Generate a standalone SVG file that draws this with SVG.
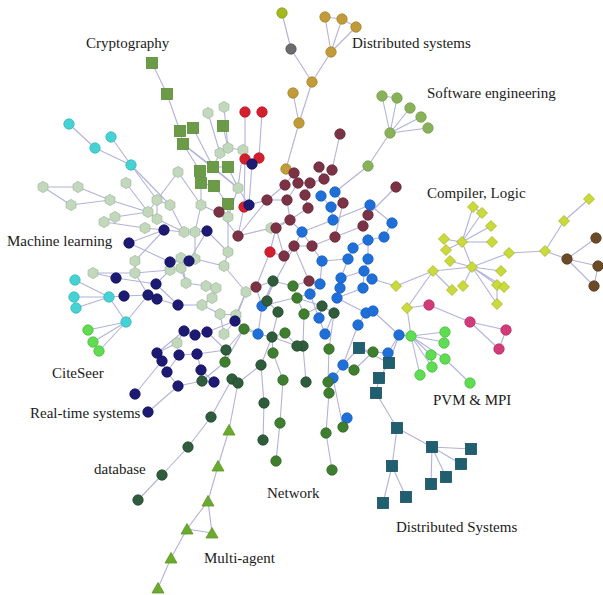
<svg xmlns="http://www.w3.org/2000/svg" xmlns:xlink="http://www.w3.org/1999/xlink" width="603" height="595" viewBox="0 0 603 595">
<style>
.lbl{font-family:"Liberation Serif","Times New Roman",serif;font-size:15px;fill:#1a1a1a}
#edges line{stroke:#b2b2dc;stroke-width:1.1}
.cy{fill:#45d2d4;stroke:#38b8ba}
.lg{fill:#5fdc52;stroke:#4cc040}
.hx{fill:#c2d8bc;stroke:#a4bc9e}
.sq{fill:#6b9b47;stroke:#5a8a3a}
.rd{fill:#d4202e;stroke:#b81824}
.nv{fill:#1c1a72;stroke:#141260}
.au{fill:#c19a3a;stroke:#a8862e}
.gy{fill:#6c6c6c;stroke:#5a5a5a}
.ol{fill:#a5b81e;stroke:#8ea015}
.mr{fill:#7b3244;stroke:#682838}
.sw{fill:#89b15a;stroke:#76a04a}
.bl{fill:#1f6fd9;stroke:#1a5fc0}
.yd{fill:#c9da3a;stroke:#a3b422}
.br{fill:#6b4a27;stroke:#5a3c1e}
.pk{fill:#d23a78;stroke:#b82e66}
.dg{fill:#2f5c3a;stroke:#244a2e}
.mg{fill:#3e7e2e;stroke:#326b24}
.tl{fill:#1f5f70;stroke:#184e5e}
.tr{fill:#6aab2e;stroke:#5a9424}
</style>
<defs>
<circle id="ci" r="5.2" stroke-width="0.8"/>
<rect id="sqr" x="-5.5" y="-5.5" width="11" height="11" stroke-width="0.8"/>
<polygon id="hex" points="0,-5.6 4.9,-2.8 4.9,2.8 0,5.6 -4.9,2.8 -4.9,-2.8" stroke-width="0.8"/>
<polygon id="dia" points="0,-5.5 5.5,0 0,5.5 -5.5,0" stroke-width="0.8"/>
<polygon id="tri" points="0,-5.5 6,5 -6,5" stroke-width="0.8"/>
</defs>
<rect width="603" height="595" fill="#ffffff"/>
<g id="edges">
<line x1="282" y1="13" x2="291" y2="49"/><line x1="291" y1="49" x2="312" y2="82"/><line x1="312" y1="82" x2="331" y2="52"/><line x1="331" y1="52" x2="325" y2="17"/><line x1="331" y1="52" x2="342" y2="19"/><line x1="331" y1="52" x2="356" y2="27"/><line x1="325" y1="17" x2="342" y2="19"/><line x1="342" y1="19" x2="356" y2="27"/><line x1="312" y1="82" x2="299" y2="123"/><line x1="293" y1="93" x2="299" y2="123"/><line x1="299" y1="123" x2="286" y2="169"/><line x1="286" y1="169" x2="294" y2="173"/>
<line x1="390" y1="133" x2="382" y2="96"/><line x1="390" y1="133" x2="397" y2="98"/><line x1="390" y1="133" x2="410" y2="108"/><line x1="390" y1="133" x2="421" y2="117"/><line x1="390" y1="133" x2="428" y2="128"/><line x1="382" y1="96" x2="397" y2="98"/><line x1="390" y1="133" x2="368" y2="166"/><line x1="368" y1="166" x2="335" y2="192"/><line x1="340" y1="134" x2="332" y2="170"/>
<line x1="152" y1="63" x2="167" y2="94"/><line x1="167" y1="94" x2="180" y2="131"/><line x1="180" y1="131" x2="183" y2="144"/><line x1="193" y1="128" x2="213" y2="167"/><line x1="183" y1="144" x2="213" y2="167"/><line x1="183" y1="144" x2="200" y2="171"/><line x1="200" y1="171" x2="201" y2="183"/><line x1="201" y1="183" x2="214" y2="186"/><line x1="213" y1="167" x2="228" y2="167"/><line x1="223" y1="126" x2="228" y2="148"/><line x1="214" y1="186" x2="228" y2="204"/><line x1="228" y1="167" x2="238" y2="188"/><line x1="183" y1="144" x2="238" y2="188"/>
<line x1="208" y1="113" x2="220" y2="153"/><line x1="224" y1="107" x2="228" y2="148"/><line x1="220" y1="153" x2="228" y2="148"/><line x1="228" y1="148" x2="243" y2="150"/><line x1="243" y1="150" x2="238" y2="188"/><line x1="220" y1="153" x2="213" y2="167"/><line x1="245" y1="112" x2="245" y2="159"/><line x1="262" y1="112" x2="259" y2="158"/><line x1="245" y1="159" x2="252" y2="164"/><line x1="259" y1="158" x2="252" y2="164"/><line x1="252" y1="164" x2="249" y2="205"/><line x1="245" y1="159" x2="244" y2="207"/><line x1="178" y1="172" x2="201" y2="205"/><line x1="178" y1="172" x2="157" y2="200"/><line x1="238" y1="188" x2="228" y2="217"/><line x1="238" y1="188" x2="249" y2="205"/><line x1="201" y1="183" x2="201" y2="205"/><line x1="213" y1="167" x2="238" y2="188"/><line x1="228" y1="204" x2="228" y2="217"/>
<line x1="69" y1="124" x2="95" y2="148"/><line x1="95" y1="148" x2="131" y2="165"/><line x1="111" y1="137" x2="131" y2="165"/><line x1="131" y1="165" x2="157" y2="200"/><line x1="131" y1="165" x2="170" y2="205"/><line x1="75" y1="280" x2="109" y2="297"/><line x1="74" y1="297" x2="109" y2="297"/><line x1="76" y1="308" x2="109" y2="297"/><line x1="109" y1="297" x2="124" y2="296"/><line x1="109" y1="297" x2="126" y2="322"/><line x1="126" y1="322" x2="148" y2="295"/><line x1="88" y1="330" x2="126" y2="322"/><line x1="93" y1="342" x2="126" y2="322"/><line x1="99" y1="351" x2="126" y2="322"/>
<line x1="43" y1="187" x2="78" y2="187"/><line x1="43" y1="187" x2="71" y2="205"/><line x1="78" y1="187" x2="110" y2="200"/><line x1="71" y1="205" x2="110" y2="200"/><line x1="110" y1="200" x2="148" y2="212"/><line x1="126" y1="183" x2="148" y2="212"/><line x1="104" y1="222" x2="115" y2="217"/><line x1="115" y1="217" x2="148" y2="212"/><line x1="104" y1="222" x2="145" y2="228"/><line x1="145" y1="228" x2="164" y2="230"/><line x1="148" y1="212" x2="157" y2="200"/><line x1="93" y1="273" x2="135" y2="273"/><line x1="93" y1="273" x2="116" y2="278"/>
<line x1="157" y1="200" x2="170" y2="205"/><line x1="170" y1="205" x2="184" y2="232"/><line x1="157" y1="200" x2="157" y2="219"/><line x1="157" y1="219" x2="184" y2="232"/><line x1="148" y1="212" x2="157" y2="219"/><line x1="184" y1="232" x2="195" y2="232"/><line x1="195" y1="232" x2="201" y2="205"/><line x1="195" y1="232" x2="207" y2="231"/><line x1="201" y1="205" x2="228" y2="217"/><line x1="228" y1="217" x2="228" y2="252"/><line x1="228" y1="252" x2="224" y2="266"/><line x1="224" y1="266" x2="246" y2="292"/><line x1="181" y1="258" x2="195" y2="259"/><line x1="170" y1="270" x2="181" y2="268"/><line x1="181" y1="268" x2="186" y2="283"/><line x1="186" y1="283" x2="206" y2="286"/><line x1="206" y1="286" x2="216" y2="288"/><line x1="216" y1="288" x2="212" y2="298"/><line x1="212" y1="298" x2="202" y2="305"/><line x1="202" y1="305" x2="220" y2="314"/><line x1="220" y1="314" x2="236" y2="315"/><line x1="236" y1="315" x2="246" y2="292"/><line x1="224" y1="334" x2="220" y2="314"/><line x1="224" y1="334" x2="235" y2="321"/><line x1="177" y1="343" x2="184" y2="331"/><line x1="177" y1="343" x2="157" y2="353"/><line x1="135" y1="261" x2="135" y2="273"/><line x1="135" y1="261" x2="164" y2="230"/><line x1="135" y1="273" x2="170" y2="270"/><line x1="271" y1="228" x2="238" y2="236"/><line x1="271" y1="228" x2="290" y2="220"/><line x1="195" y1="259" x2="224" y2="266"/><line x1="186" y1="283" x2="181" y2="258"/><line x1="195" y1="232" x2="195" y2="259"/><line x1="228" y1="217" x2="219" y2="212"/><line x1="181" y1="258" x2="170" y2="262"/>
<line x1="129" y1="243" x2="164" y2="230"/><line x1="129" y1="243" x2="170" y2="262"/><line x1="164" y1="230" x2="184" y2="232"/><line x1="170" y1="262" x2="189" y2="261"/><line x1="189" y1="261" x2="207" y2="231"/><line x1="116" y1="278" x2="156" y2="284"/><line x1="124" y1="296" x2="148" y2="295"/><line x1="148" y1="295" x2="157" y2="299"/><line x1="156" y1="284" x2="178" y2="305"/><line x1="157" y1="299" x2="178" y2="305"/><line x1="178" y1="305" x2="202" y2="305"/><line x1="156" y1="284" x2="170" y2="270"/><line x1="148" y1="295" x2="135" y2="273"/><line x1="184" y1="331" x2="195" y2="335"/><line x1="195" y1="335" x2="207" y2="332"/><line x1="207" y1="332" x2="235" y2="321"/><line x1="184" y1="331" x2="157" y2="353"/><line x1="157" y1="353" x2="162" y2="361"/><line x1="162" y1="361" x2="167" y2="372"/><line x1="179" y1="355" x2="197" y2="354"/><line x1="179" y1="355" x2="167" y2="372"/><line x1="197" y1="354" x2="201" y2="370"/><line x1="201" y1="370" x2="214" y2="382"/><line x1="167" y1="372" x2="178" y2="386"/><line x1="178" y1="386" x2="202" y2="381"/><line x1="235" y1="321" x2="258" y2="334"/><line x1="235" y1="321" x2="246" y2="292"/><line x1="249" y1="205" x2="244" y2="207"/><line x1="207" y1="332" x2="226" y2="350"/><line x1="197" y1="354" x2="226" y2="350"/><line x1="135" y1="394" x2="162" y2="361"/><line x1="148" y1="412" x2="178" y2="386"/><line x1="207" y1="231" x2="228" y2="252"/>
<line x1="319" y1="167" x2="324" y2="179"/><line x1="332" y1="170" x2="324" y2="179"/><line x1="324" y1="179" x2="310" y2="183"/><line x1="310" y1="183" x2="305" y2="195"/><line x1="294" y1="173" x2="285" y2="185"/><line x1="294" y1="173" x2="298" y2="183"/><line x1="298" y1="183" x2="310" y2="183"/><line x1="305" y1="195" x2="308" y2="208"/><line x1="308" y1="208" x2="290" y2="220"/><line x1="290" y1="220" x2="276" y2="228"/><line x1="276" y1="228" x2="284" y2="256"/><line x1="284" y1="256" x2="294" y2="246"/><line x1="294" y1="246" x2="312" y2="246"/><line x1="312" y1="246" x2="335" y2="237"/><line x1="335" y1="237" x2="363" y2="226"/><line x1="363" y1="226" x2="368" y2="215"/><line x1="343" y1="203" x2="335" y2="237"/><line x1="343" y1="203" x2="331" y2="207"/><line x1="267" y1="200" x2="287" y2="200"/><line x1="287" y1="200" x2="290" y2="220"/><line x1="267" y1="200" x2="249" y2="205"/><line x1="219" y1="212" x2="238" y2="236"/><line x1="238" y1="236" x2="267" y2="200"/><line x1="309" y1="281" x2="320" y2="284"/><line x1="309" y1="281" x2="294" y2="246"/><line x1="256" y1="287" x2="273" y2="281"/><line x1="256" y1="287" x2="262" y2="306"/><line x1="396" y1="187" x2="368" y2="215"/><line x1="285" y1="185" x2="267" y2="200"/><line x1="298" y1="183" x2="287" y2="200"/><line x1="270" y1="252" x2="284" y2="256"/><line x1="270" y1="252" x2="276" y2="228"/><line x1="270" y1="252" x2="256" y2="287"/><line x1="244" y1="207" x2="238" y2="236"/>
<line x1="321" y1="196" x2="331" y2="207"/><line x1="335" y1="192" x2="343" y2="203"/><line x1="370" y1="205" x2="333" y2="220"/><line x1="333" y1="220" x2="331" y2="207"/><line x1="392" y1="223" x2="384" y2="237"/><line x1="384" y1="237" x2="368" y2="240"/><line x1="368" y1="240" x2="353" y2="248"/><line x1="353" y1="248" x2="348" y2="259"/><line x1="348" y1="259" x2="322" y2="261"/><line x1="322" y1="261" x2="302" y2="232"/><line x1="302" y1="232" x2="333" y2="220"/><line x1="368" y1="259" x2="364" y2="271"/><line x1="364" y1="271" x2="372" y2="279"/><line x1="372" y1="279" x2="396" y2="286"/><line x1="341" y1="278" x2="340" y2="288"/><line x1="341" y1="278" x2="348" y2="259"/><line x1="320" y1="284" x2="310" y2="294"/><line x1="340" y1="288" x2="337" y2="298"/><line x1="363" y1="288" x2="364" y2="271"/><line x1="363" y1="288" x2="337" y2="298"/><line x1="310" y1="294" x2="319" y2="318"/><line x1="337" y1="298" x2="366" y2="313"/><line x1="366" y1="313" x2="373" y2="311"/><line x1="373" y1="311" x2="399" y2="335"/><line x1="358" y1="325" x2="366" y2="313"/><line x1="325" y1="334" x2="319" y2="318"/><line x1="319" y1="318" x2="322" y2="306"/><line x1="399" y1="335" x2="388" y2="353"/><line x1="388" y1="353" x2="373" y2="352"/><line x1="343" y1="365" x2="358" y2="325"/><line x1="343" y1="365" x2="333" y2="378"/><line x1="347" y1="418" x2="343" y2="427"/><line x1="262" y1="306" x2="258" y2="334"/><line x1="262" y1="306" x2="302" y2="232"/><line x1="262" y1="306" x2="273" y2="281"/><line x1="262" y1="306" x2="267" y2="301"/><line x1="258" y1="334" x2="272" y2="337"/><line x1="368" y1="240" x2="368" y2="259"/><line x1="341" y1="278" x2="364" y2="271"/><line x1="310" y1="294" x2="262" y2="306"/><line x1="322" y1="261" x2="320" y2="284"/><line x1="370" y1="205" x2="392" y2="223"/><line x1="399" y1="335" x2="411" y2="336"/><line x1="302" y1="232" x2="290" y2="220"/>
<line x1="462" y1="242" x2="473" y2="207"/><line x1="462" y1="242" x2="482" y2="213"/><line x1="462" y1="242" x2="491" y2="226"/><line x1="462" y1="242" x2="492" y2="242"/><line x1="462" y1="242" x2="444" y2="239"/><line x1="462" y1="242" x2="446" y2="250"/><line x1="462" y1="242" x2="472" y2="267"/><line x1="473" y1="207" x2="482" y2="213"/><line x1="472" y1="267" x2="501" y2="271"/><line x1="472" y1="267" x2="497" y2="285"/><line x1="472" y1="267" x2="504" y2="287"/><line x1="472" y1="267" x2="509" y2="253"/><line x1="472" y1="267" x2="463" y2="286"/><line x1="472" y1="267" x2="497" y2="304"/><line x1="472" y1="267" x2="433" y2="271"/><line x1="472" y1="267" x2="450" y2="261"/><line x1="452" y1="290" x2="433" y2="271"/><line x1="497" y1="285" x2="497" y2="304"/><line x1="509" y1="253" x2="545" y2="251"/><line x1="545" y1="251" x2="564" y2="221"/><line x1="564" y1="221" x2="589" y2="199"/><line x1="545" y1="251" x2="567" y2="259"/><line x1="433" y1="271" x2="396" y2="286"/><line x1="433" y1="271" x2="407" y2="308"/><line x1="407" y1="308" x2="411" y2="336"/><line x1="407" y1="308" x2="429" y2="305"/><line x1="429" y1="305" x2="470" y2="322"/><line x1="470" y1="322" x2="506" y2="330"/><line x1="470" y1="322" x2="499" y2="349"/><line x1="506" y1="330" x2="499" y2="349"/>
<line x1="567" y1="259" x2="596" y2="238"/><line x1="567" y1="259" x2="598" y2="266"/><line x1="567" y1="259" x2="594" y2="286"/><line x1="598" y1="266" x2="594" y2="286"/>
<line x1="411" y1="336" x2="445" y2="332"/><line x1="411" y1="336" x2="444" y2="342"/><line x1="411" y1="336" x2="431" y2="355"/><line x1="411" y1="336" x2="445" y2="359"/><line x1="411" y1="336" x2="432" y2="367"/><line x1="411" y1="336" x2="420" y2="375"/><line x1="445" y1="359" x2="470" y2="383"/><line x1="431" y1="355" x2="432" y2="367"/>
<line x1="273" y1="281" x2="267" y2="301"/><line x1="267" y1="301" x2="278" y2="312"/><line x1="278" y1="312" x2="272" y2="337"/><line x1="272" y1="337" x2="297" y2="346"/><line x1="297" y1="346" x2="303" y2="346"/><line x1="303" y1="346" x2="306" y2="382"/><line x1="322" y1="306" x2="334" y2="313"/><line x1="322" y1="306" x2="304" y2="314"/><line x1="334" y1="313" x2="329" y2="349"/><line x1="261" y1="365" x2="272" y2="337"/><line x1="261" y1="365" x2="264" y2="403"/><line x1="226" y1="350" x2="225" y2="362"/><line x1="232" y1="379" x2="238" y2="383"/><line x1="238" y1="383" x2="261" y2="365"/><line x1="202" y1="381" x2="214" y2="382"/><line x1="202" y1="381" x2="225" y2="362"/><line x1="211" y1="417" x2="232" y2="379"/><line x1="211" y1="417" x2="188" y2="447"/><line x1="188" y1="447" x2="162" y2="475"/><line x1="162" y1="475" x2="138" y2="500"/><line x1="264" y1="403" x2="263" y2="440"/><line x1="238" y1="383" x2="229" y2="430"/>
<line x1="293" y1="286" x2="297" y2="298"/><line x1="297" y1="298" x2="304" y2="314"/><line x1="304" y1="314" x2="303" y2="346"/><line x1="244" y1="329" x2="258" y2="334"/><line x1="244" y1="329" x2="226" y2="350"/><line x1="285" y1="333" x2="272" y2="337"/><line x1="285" y1="333" x2="297" y2="346"/><line x1="273" y1="353" x2="272" y2="337"/><line x1="273" y1="353" x2="283" y2="380"/><line x1="283" y1="380" x2="280" y2="423"/><line x1="280" y1="423" x2="276" y2="461"/><line x1="225" y1="362" x2="244" y2="329"/><line x1="329" y1="349" x2="328" y2="382"/><line x1="328" y1="382" x2="329" y2="393"/><line x1="329" y1="393" x2="326" y2="433"/><line x1="326" y1="433" x2="332" y2="470"/><line x1="343" y1="427" x2="333" y2="378"/><line x1="373" y1="352" x2="354" y2="370"/><line x1="354" y1="370" x2="343" y2="365"/><line x1="373" y1="352" x2="359" y2="348"/><line x1="293" y1="286" x2="273" y2="281"/><line x1="293" y1="286" x2="309" y2="281"/><line x1="297" y1="298" x2="322" y2="306"/><line x1="334" y1="313" x2="325" y2="334"/>
<line x1="359" y1="348" x2="389" y2="363"/><line x1="389" y1="363" x2="379" y2="378"/><line x1="379" y1="378" x2="376" y2="393"/><line x1="376" y1="393" x2="397" y2="428"/><line x1="397" y1="428" x2="432" y2="447"/><line x1="397" y1="428" x2="392" y2="466"/><line x1="392" y1="466" x2="406" y2="497"/><line x1="392" y1="466" x2="383" y2="503"/><line x1="432" y1="447" x2="471" y2="449"/><line x1="432" y1="447" x2="461" y2="464"/><line x1="432" y1="447" x2="446" y2="477"/><line x1="432" y1="447" x2="431" y2="484"/><line x1="359" y1="348" x2="343" y2="365"/><line x1="389" y1="363" x2="399" y2="335"/>
<line x1="229" y1="430" x2="218" y2="466"/><line x1="218" y1="466" x2="208" y2="501"/><line x1="208" y1="501" x2="187" y2="529"/><line x1="187" y1="529" x2="171" y2="558"/><line x1="171" y1="558" x2="158" y2="588"/><line x1="208" y1="501" x2="212" y2="533"/><line x1="187" y1="529" x2="212" y2="533"/>
</g>
<g id="nodes">
<g id="cy1" class="cy"><use href="#ci" x="69" y="124"/></g><g id="cy2" class="cy"><use href="#ci" x="111" y="137"/></g><g id="cy3" class="cy"><use href="#ci" x="95" y="148"/></g><g id="cy4" class="cy"><use href="#ci" x="131" y="165"/></g><g id="cy5" class="cy"><use href="#ci" x="75" y="280"/></g><g id="cy6" class="cy"><use href="#ci" x="74" y="297"/></g><g id="cy7" class="cy"><use href="#ci" x="76" y="308"/></g><g id="cy8" class="cy"><use href="#ci" x="109" y="297"/></g><g id="cy9" class="cy"><use href="#ci" x="126" y="322"/></g>
<g id="lg1" class="lg"><use href="#ci" x="88" y="330"/></g><g id="lg2" class="lg"><use href="#ci" x="93" y="342"/></g><g id="lg3" class="lg"><use href="#ci" x="99" y="351"/></g><g id="lg4" class="lg"><use href="#ci" x="411" y="336"/></g><g id="lg5" class="lg"><use href="#ci" x="445" y="332"/></g><g id="lg6" class="lg"><use href="#ci" x="444" y="343"/></g><g id="lg7" class="lg"><use href="#ci" x="431" y="355"/></g><g id="lg8" class="lg"><use href="#ci" x="445" y="359"/></g><g id="lg9" class="lg"><use href="#ci" x="432" y="367"/></g><g id="lg10" class="lg"><use href="#ci" x="420" y="375"/></g><g id="lg11" class="lg"><use href="#ci" x="470" y="383"/></g>
<g id="hx1" class="hx"><use href="#hex" x="43" y="187"/></g><g id="hx2" class="hx"><use href="#hex" x="78" y="187"/></g><g id="hx3" class="hx"><use href="#hex" x="126" y="183"/></g><g id="hx4" class="hx"><use href="#hex" x="110" y="200"/></g><g id="hx5" class="hx"><use href="#hex" x="71" y="205"/></g><g id="hx6" class="hx"><use href="#hex" x="104" y="222"/></g><g id="hx7" class="hx"><use href="#hex" x="115" y="217"/></g><g id="hx8" class="hx"><use href="#hex" x="145" y="228"/></g><g id="hx9" class="hx"><use href="#hex" x="148" y="212"/></g><g id="hx10" class="hx"><use href="#hex" x="157" y="200"/></g><g id="hx11" class="hx"><use href="#hex" x="178" y="172"/></g><g id="hx12" class="hx"><use href="#hex" x="208" y="113"/></g><g id="hx13" class="hx"><use href="#hex" x="224" y="107"/></g><g id="hx14" class="hx"><use href="#hex" x="220" y="153"/></g><g id="hx15" class="hx"><use href="#hex" x="228" y="148"/></g><g id="hx16" class="hx"><use href="#hex" x="243" y="150"/></g><g id="hx17" class="hx"><use href="#hex" x="238" y="188"/></g><g id="hx18" class="hx"><use href="#hex" x="93" y="273"/></g><g id="hx19" class="hx"><use href="#hex" x="135" y="261"/></g><g id="hx20" class="hx"><use href="#hex" x="135" y="273"/></g><g id="hx21" class="hx"><use href="#hex" x="170" y="205"/></g><g id="hx22" class="hx"><use href="#hex" x="201" y="205"/></g><g id="hx23" class="hx"><use href="#hex" x="228" y="217"/></g><g id="hx24" class="hx"><use href="#hex" x="157" y="219"/></g><g id="hx25" class="hx"><use href="#hex" x="184" y="232"/></g><g id="hx26" class="hx"><use href="#hex" x="195" y="232"/></g><g id="hx27" class="hx"><use href="#hex" x="271" y="228"/></g><g id="hx28" class="hx"><use href="#hex" x="228" y="252"/></g><g id="hx29" class="hx"><use href="#hex" x="224" y="266"/></g><g id="hx30" class="hx"><use href="#hex" x="181" y="258"/></g><g id="hx31" class="hx"><use href="#hex" x="195" y="259"/></g><g id="hx32" class="hx"><use href="#hex" x="170" y="270"/></g><g id="hx33" class="hx"><use href="#hex" x="181" y="268"/></g><g id="hx34" class="hx"><use href="#hex" x="186" y="283"/></g><g id="hx35" class="hx"><use href="#hex" x="206" y="286"/></g><g id="hx36" class="hx"><use href="#hex" x="216" y="288"/></g><g id="hx37" class="hx"><use href="#hex" x="212" y="298"/></g><g id="hx38" class="hx"><use href="#hex" x="246" y="292"/></g><g id="hx39" class="hx"><use href="#hex" x="202" y="305"/></g><g id="hx40" class="hx"><use href="#hex" x="220" y="314"/></g><g id="hx41" class="hx"><use href="#hex" x="236" y="315"/></g><g id="hx42" class="hx"><use href="#hex" x="224" y="334"/></g><g id="hx43" class="hx"><use href="#hex" x="177" y="343"/></g>
<g id="sq1" class="sq"><use href="#sqr" x="152" y="63"/></g><g id="sq2" class="sq"><use href="#sqr" x="167" y="94"/></g><g id="sq3" class="sq"><use href="#sqr" x="180" y="131"/></g><g id="sq4" class="sq"><use href="#sqr" x="193" y="128"/></g><g id="sq5" class="sq"><use href="#sqr" x="183" y="144"/></g><g id="sq6" class="sq"><use href="#sqr" x="223" y="126"/></g><g id="sq7" class="sq"><use href="#sqr" x="213" y="167"/></g><g id="sq8" class="sq"><use href="#sqr" x="200" y="171"/></g><g id="sq9" class="sq"><use href="#sqr" x="201" y="183"/></g><g id="sq10" class="sq"><use href="#sqr" x="214" y="186"/></g><g id="sq11" class="sq"><use href="#sqr" x="228" y="167"/></g><g id="sq12" class="sq"><use href="#sqr" x="228" y="204"/></g>
<g id="rd1" class="rd"><use href="#ci" x="245" y="112"/></g><g id="rd2" class="rd"><use href="#ci" x="262" y="112"/></g><g id="rd3" class="rd"><use href="#ci" x="245" y="159"/></g><g id="rd4" class="rd"><use href="#ci" x="259" y="158"/></g><g id="rd5" class="rd"><use href="#ci" x="244" y="207"/></g><g id="rd6" class="rd"><use href="#ci" x="270" y="252"/></g>
<g id="nv1" class="nv"><use href="#ci" x="252" y="164"/></g><g id="nv2" class="nv"><use href="#ci" x="249" y="205"/></g><g id="nv3" class="nv"><use href="#ci" x="129" y="243"/></g><g id="nv4" class="nv"><use href="#ci" x="116" y="278"/></g><g id="nv5" class="nv"><use href="#ci" x="124" y="296"/></g><g id="nv6" class="nv"><use href="#ci" x="148" y="295"/></g><g id="nv7" class="nv"><use href="#ci" x="157" y="299"/></g><g id="nv8" class="nv"><use href="#ci" x="164" y="230"/></g><g id="nv9" class="nv"><use href="#ci" x="207" y="231"/></g><g id="nv10" class="nv"><use href="#ci" x="170" y="262"/></g><g id="nv11" class="nv"><use href="#ci" x="189" y="261"/></g><g id="nv12" class="nv"><use href="#ci" x="156" y="284"/></g><g id="nv13" class="nv"><use href="#ci" x="178" y="305"/></g><g id="nv14" class="nv"><use href="#ci" x="235" y="321"/></g><g id="nv15" class="nv"><use href="#ci" x="184" y="331"/></g><g id="nv16" class="nv"><use href="#ci" x="195" y="335"/></g><g id="nv17" class="nv"><use href="#ci" x="207" y="332"/></g><g id="nv18" class="nv"><use href="#ci" x="157" y="353"/></g><g id="nv19" class="nv"><use href="#ci" x="162" y="361"/></g><g id="nv20" class="nv"><use href="#ci" x="179" y="355"/></g><g id="nv21" class="nv"><use href="#ci" x="197" y="354"/></g><g id="nv22" class="nv"><use href="#ci" x="167" y="372"/></g><g id="nv23" class="nv"><use href="#ci" x="201" y="370"/></g><g id="nv24" class="nv"><use href="#ci" x="178" y="386"/></g><g id="nv25" class="nv"><use href="#ci" x="214" y="382"/></g><g id="nv26" class="nv"><use href="#ci" x="135" y="394"/></g><g id="nv27" class="nv"><use href="#ci" x="148" y="412"/></g>
<g id="ol1" class="ol"><use href="#ci" x="282" y="13"/></g><g id="gy1" class="gy"><use href="#ci" x="291" y="49"/></g>
<g id="au1" class="au"><use href="#ci" x="325" y="17"/></g><g id="au2" class="au"><use href="#ci" x="342" y="19"/></g><g id="au3" class="au"><use href="#ci" x="356" y="27"/></g><g id="au4" class="au"><use href="#ci" x="331" y="52"/></g><g id="au5" class="au"><use href="#ci" x="312" y="82"/></g><g id="au6" class="au"><use href="#ci" x="293" y="93"/></g><g id="au7" class="au"><use href="#ci" x="299" y="123"/></g><g id="au8" class="au"><use href="#ci" x="286" y="169"/></g>
<g id="sw1" class="sw"><use href="#ci" x="382" y="96"/></g><g id="sw2" class="sw"><use href="#ci" x="397" y="98"/></g><g id="sw3" class="sw"><use href="#ci" x="410" y="108"/></g><g id="sw4" class="sw"><use href="#ci" x="421" y="117"/></g><g id="sw5" class="sw"><use href="#ci" x="428" y="128"/></g><g id="sw6" class="sw"><use href="#ci" x="390" y="133"/></g><g id="sw7" class="sw"><use href="#ci" x="368" y="166"/></g>
<g id="mr1" class="mr"><use href="#ci" x="340" y="134"/></g><g id="mr2" class="mr"><use href="#ci" x="319" y="167"/></g><g id="mr3" class="mr"><use href="#ci" x="332" y="170"/></g><g id="mr4" class="mr"><use href="#ci" x="324" y="179"/></g><g id="mr5" class="mr"><use href="#ci" x="310" y="183"/></g><g id="mr6" class="mr"><use href="#ci" x="305" y="195"/></g><g id="mr7" class="mr"><use href="#ci" x="294" y="173"/></g><g id="mr8" class="mr"><use href="#ci" x="298" y="183"/></g><g id="mr9" class="mr"><use href="#ci" x="285" y="185"/></g><g id="mr10" class="mr"><use href="#ci" x="396" y="187"/></g><g id="mr11" class="mr"><use href="#ci" x="343" y="203"/></g><g id="mr12" class="mr"><use href="#ci" x="308" y="208"/></g><g id="mr13" class="mr"><use href="#ci" x="368" y="215"/></g><g id="mr14" class="mr"><use href="#ci" x="363" y="226"/></g><g id="mr15" class="mr"><use href="#ci" x="335" y="237"/></g><g id="mr16" class="mr"><use href="#ci" x="312" y="246"/></g><g id="mr17" class="mr"><use href="#ci" x="309" y="281"/></g><g id="mr18" class="mr"><use href="#ci" x="219" y="212"/></g><g id="mr19" class="mr"><use href="#ci" x="238" y="236"/></g><g id="mr20" class="mr"><use href="#ci" x="267" y="200"/></g><g id="mr21" class="mr"><use href="#ci" x="287" y="200"/></g><g id="mr22" class="mr"><use href="#ci" x="290" y="220"/></g><g id="mr23" class="mr"><use href="#ci" x="276" y="228"/></g><g id="mr24" class="mr"><use href="#ci" x="294" y="246"/></g><g id="mr25" class="mr"><use href="#ci" x="284" y="256"/></g><g id="mr26" class="mr"><use href="#ci" x="256" y="287"/></g>
<g id="bl1" class="bl"><use href="#ci" x="321" y="196"/></g><g id="bl2" class="bl"><use href="#ci" x="335" y="192"/></g><g id="bl3" class="bl"><use href="#ci" x="331" y="207"/></g><g id="bl4" class="bl"><use href="#ci" x="370" y="205"/></g><g id="bl5" class="bl"><use href="#ci" x="392" y="223"/></g><g id="bl6" class="bl"><use href="#ci" x="333" y="220"/></g><g id="bl7" class="bl"><use href="#ci" x="302" y="232"/></g><g id="bl8" class="bl"><use href="#ci" x="384" y="237"/></g><g id="bl9" class="bl"><use href="#ci" x="368" y="240"/></g><g id="bl10" class="bl"><use href="#ci" x="353" y="248"/></g><g id="bl11" class="bl"><use href="#ci" x="322" y="261"/></g><g id="bl12" class="bl"><use href="#ci" x="348" y="259"/></g><g id="bl13" class="bl"><use href="#ci" x="368" y="259"/></g><g id="bl14" class="bl"><use href="#ci" x="364" y="271"/></g><g id="bl15" class="bl"><use href="#ci" x="372" y="279"/></g><g id="bl16" class="bl"><use href="#ci" x="341" y="278"/></g><g id="bl17" class="bl"><use href="#ci" x="320" y="284"/></g><g id="bl18" class="bl"><use href="#ci" x="340" y="288"/></g><g id="bl19" class="bl"><use href="#ci" x="363" y="288"/></g><g id="bl20" class="bl"><use href="#ci" x="310" y="294"/></g><g id="bl21" class="bl"><use href="#ci" x="337" y="298"/></g><g id="bl22" class="bl"><use href="#ci" x="319" y="318"/></g><g id="bl23" class="bl"><use href="#ci" x="366" y="313"/></g><g id="bl24" class="bl"><use href="#ci" x="373" y="311"/></g><g id="bl25" class="bl"><use href="#ci" x="358" y="325"/></g><g id="bl26" class="bl"><use href="#ci" x="325" y="334"/></g><g id="bl27" class="bl"><use href="#ci" x="399" y="335"/></g><g id="bl28" class="bl"><use href="#ci" x="388" y="353"/></g><g id="bl29" class="bl"><use href="#ci" x="343" y="365"/></g><g id="bl30" class="bl"><use href="#ci" x="333" y="378"/></g><g id="bl31" class="bl"><use href="#ci" x="347" y="418"/></g><g id="bl32" class="bl"><use href="#ci" x="262" y="306"/></g><g id="bl33" class="bl"><use href="#ci" x="258" y="334"/></g>
<g id="yd1" class="yd"><use href="#dia" x="589" y="199"/></g><g id="yd2" class="yd"><use href="#dia" x="564" y="221"/></g><g id="yd3" class="yd"><use href="#dia" x="545" y="251"/></g><g id="yd4" class="yd"><use href="#dia" x="509" y="253"/></g><g id="yd5" class="yd"><use href="#dia" x="473" y="207"/></g><g id="yd6" class="yd"><use href="#dia" x="482" y="213"/></g><g id="yd7" class="yd"><use href="#dia" x="491" y="226"/></g><g id="yd8" class="yd"><use href="#dia" x="462" y="242"/></g><g id="yd9" class="yd"><use href="#dia" x="492" y="242"/></g><g id="yd10" class="yd"><use href="#dia" x="450" y="261"/></g><g id="yd11" class="yd"><use href="#dia" x="472" y="267"/></g><g id="yd12" class="yd"><use href="#dia" x="501" y="271"/></g><g id="yd13" class="yd"><use href="#dia" x="497" y="285"/></g><g id="yd14" class="yd"><use href="#dia" x="504" y="287"/></g><g id="yd15" class="yd"><use href="#dia" x="463" y="286"/></g><g id="yd16" class="yd"><use href="#dia" x="452" y="290"/></g><g id="yd17" class="yd"><use href="#dia" x="497" y="304"/></g><g id="yd18" class="yd"><use href="#dia" x="444" y="239"/></g><g id="yd19" class="yd"><use href="#dia" x="446" y="250"/></g><g id="yd20" class="yd"><use href="#dia" x="433" y="271"/></g><g id="yd21" class="yd"><use href="#dia" x="396" y="286"/></g><g id="yd22" class="yd"><use href="#dia" x="407" y="308"/></g>
<g id="br1" class="br"><use href="#ci" x="596" y="238"/></g><g id="br2" class="br"><use href="#ci" x="567" y="259"/></g><g id="br3" class="br"><use href="#ci" x="598" y="266"/></g><g id="br4" class="br"><use href="#ci" x="594" y="286"/></g>
<g id="pk1" class="pk"><use href="#ci" x="429" y="305"/></g><g id="pk2" class="pk"><use href="#ci" x="470" y="322"/></g><g id="pk3" class="pk"><use href="#ci" x="506" y="330"/></g><g id="pk4" class="pk"><use href="#ci" x="499" y="349"/></g>
<g id="dg1" class="dg"><use href="#ci" x="322" y="306"/></g><g id="dg2" class="dg"><use href="#ci" x="334" y="313"/></g><g id="dg3" class="dg"><use href="#ci" x="303" y="346"/></g><g id="dg4" class="dg"><use href="#ci" x="306" y="382"/></g><g id="dg5" class="dg"><use href="#ci" x="273" y="281"/></g><g id="dg6" class="dg"><use href="#ci" x="267" y="301"/></g><g id="dg7" class="dg"><use href="#ci" x="278" y="312"/></g><g id="dg8" class="dg"><use href="#ci" x="226" y="350"/></g><g id="dg9" class="dg"><use href="#ci" x="272" y="337"/></g><g id="dg10" class="dg"><use href="#ci" x="297" y="346"/></g><g id="dg11" class="dg"><use href="#ci" x="261" y="365"/></g><g id="dg12" class="dg"><use href="#ci" x="202" y="381"/></g><g id="dg13" class="dg"><use href="#ci" x="232" y="379"/></g><g id="dg14" class="dg"><use href="#ci" x="238" y="383"/></g><g id="dg15" class="dg"><use href="#ci" x="264" y="403"/></g><g id="dg16" class="dg"><use href="#ci" x="263" y="440"/></g><g id="dg17" class="dg"><use href="#ci" x="211" y="417"/></g><g id="dg18" class="dg"><use href="#ci" x="188" y="447"/></g><g id="dg19" class="dg"><use href="#ci" x="162" y="475"/></g><g id="dg20" class="dg"><use href="#ci" x="138" y="500"/></g>
<g id="mg1" class="mg"><use href="#ci" x="304" y="314"/></g><g id="mg2" class="mg"><use href="#ci" x="329" y="349"/></g><g id="mg3" class="mg"><use href="#ci" x="373" y="352"/></g><g id="mg4" class="mg"><use href="#ci" x="354" y="370"/></g><g id="mg5" class="mg"><use href="#ci" x="328" y="382"/></g><g id="mg6" class="mg"><use href="#ci" x="329" y="393"/></g><g id="mg7" class="mg"><use href="#ci" x="297" y="298"/></g><g id="mg8" class="mg"><use href="#ci" x="293" y="286"/></g><g id="mg9" class="mg"><use href="#ci" x="244" y="329"/></g><g id="mg10" class="mg"><use href="#ci" x="285" y="333"/></g><g id="mg11" class="mg"><use href="#ci" x="225" y="362"/></g><g id="mg12" class="mg"><use href="#ci" x="273" y="353"/></g><g id="mg13" class="mg"><use href="#ci" x="283" y="380"/></g><g id="mg14" class="mg"><use href="#ci" x="280" y="423"/></g><g id="mg15" class="mg"><use href="#ci" x="276" y="461"/></g><g id="mg16" class="mg"><use href="#ci" x="326" y="433"/></g><g id="mg17" class="mg"><use href="#ci" x="343" y="427"/></g><g id="mg18" class="mg"><use href="#ci" x="332" y="470"/></g>
<g id="tl1" class="tl"><use href="#sqr" x="359" y="348"/></g><g id="tl2" class="tl"><use href="#sqr" x="389" y="363"/></g><g id="tl3" class="tl"><use href="#sqr" x="379" y="378"/></g><g id="tl4" class="tl"><use href="#sqr" x="376" y="393"/></g><g id="tl5" class="tl"><use href="#sqr" x="397" y="428"/></g><g id="tl6" class="tl"><use href="#sqr" x="432" y="447"/></g><g id="tl7" class="tl"><use href="#sqr" x="392" y="466"/></g><g id="tl8" class="tl"><use href="#sqr" x="446" y="477"/></g><g id="tl9" class="tl"><use href="#sqr" x="431" y="484"/></g><g id="tl10" class="tl"><use href="#sqr" x="406" y="497"/></g><g id="tl11" class="tl"><use href="#sqr" x="383" y="503"/></g><g id="tl12" class="tl"><use href="#sqr" x="471" y="449"/></g><g id="tl13" class="tl"><use href="#sqr" x="461" y="464"/></g>
<g id="tr1" class="tr"><use href="#tri" x="229" y="430"/></g><g id="tr2" class="tr"><use href="#tri" x="218" y="466"/></g><g id="tr3" class="tr"><use href="#tri" x="208" y="501"/></g><g id="tr4" class="tr"><use href="#tri" x="187" y="529"/></g><g id="tr5" class="tr"><use href="#tri" x="212" y="533"/></g><g id="tr6" class="tr"><use href="#tri" x="171" y="558"/></g><g id="tr7" class="tr"><use href="#tri" x="158" y="588"/></g>
</g>
<g id="labels">
<text class="lbl" x="86" y="48">Cryptography</text>
<text class="lbl" x="352" y="48">Distributed systems</text>
<text class="lbl" x="427" y="98">Software engineering</text>
<text class="lbl" x="427" y="198">Compiler, Logic</text>
<text class="lbl" x="7" y="246">Machine learning</text>
<text class="lbl" x="52" y="378">CiteSeer</text>
<text class="lbl" x="30" y="418">Real-time systems</text>
<text class="lbl" x="94" y="474">database</text>
<text class="lbl" x="204" y="563">Multi-agent</text>
<text class="lbl" x="267" y="498">Network</text>
<text class="lbl" x="396" y="532">Distributed Systems</text>
<text class="lbl" x="433" y="405">PVM &amp; MPI</text>
</g>
</svg>
